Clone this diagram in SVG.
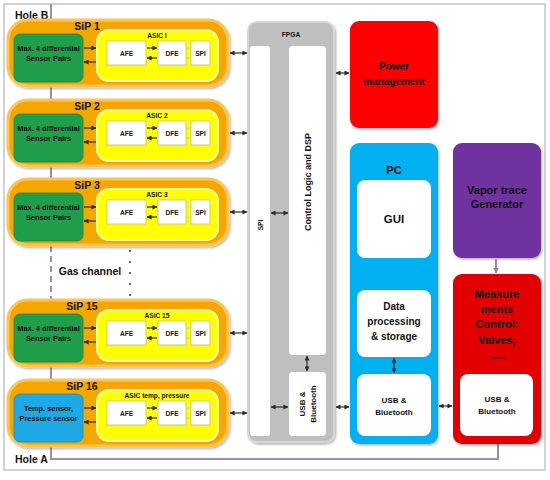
<svg xmlns="http://www.w3.org/2000/svg" width="550" height="480" viewBox="0 0 550 480">
<defs>
<style>
text{font-family:"Liberation Sans",Arial,sans-serif;font-weight:bold;fill:#111;text-anchor:middle}
.sip{fill:#f5a700;stroke:#fbc553;stroke-width:3}
.asic{fill:#ffff00;stroke:#ffffa8;stroke-width:2}
.grn{fill:#1f9e4c;stroke:#17853e;stroke-width:0.8}
.blu{fill:#1ea8e6;stroke:#1590c8;stroke-width:0.8}
.wb{fill:#fff;stroke:#bdbd90;stroke-width:0.8}
.wp{fill:#fff}
.ar{stroke:#2b2b2b;stroke-width:1.2;fill:none;marker-end:url(#ah)}
.dar{stroke:#2b2b2b;stroke-width:1.2;fill:none;marker-end:url(#ah);marker-start:url(#ah)}
.ds{stroke:#d2d2a8;stroke-width:1;fill:none}
.pl{stroke:#9d8bbf;stroke-width:2;fill:none}
.s14{font-size:10.5px}
.s7{font-size:7.4px}
.s6{font-size:6.6px}
.s10{font-size:10px}
.s11{font-size:11px}
.s8{font-size:8px}
</style>
<marker id="ah" viewBox="0 0 6 6" refX="5.5" refY="3" markerWidth="5" markerHeight="5" markerUnits="userSpaceOnUse" orient="auto-start-reverse"><path d="M0,0 L6,3 L0,6 z" fill="#2b2b2b"/></marker>
<marker id="ahp" viewBox="0 0 6 6" refX="5.5" refY="3" markerWidth="6" markerHeight="6" markerUnits="userSpaceOnUse" orient="auto"><path d="M0,0 L6,3 L0,6 z" fill="#8e7cb0"/></marker>
<filter id="sh" x="-10%" y="-10%" width="130%" height="130%"><feDropShadow dx="1.2" dy="1.5" stdDeviation="1.2" flood-color="#000" flood-opacity="0.3"/></filter>
</defs>
<rect x="4" y="4" width="541" height="466" fill="#fff" stroke="#c4c4c4" stroke-width="1.5"/>
<g id="gas-line">
<path class="pl" d="M51,4 V245"/>
<path class="pl" d="M51,246 V300" stroke-dasharray="6,4"/>
<path class="pl" d="M51,300 V459 H498 V437"/>
<text x="15" y="19" class="s14" style="text-anchor:start">Hole B</text>
<text x="15" y="463" class="s14" style="text-anchor:start">Hole A</text>
<text x="90" y="275" class="s14">Gas channel</text>
<g fill="#222"><circle cx="130" cy="251" r="0.9"/><circle cx="130" cy="262" r="0.9"/><circle cx="130" cy="273" r="0.9"/><circle cx="130" cy="284" r="0.9"/><circle cx="130" cy="295" r="0.9"/></g>
</g>
<g id="sip1" transform="translate(0,20)">
<rect class="sip" x="8" y="0" width="220" height="66" rx="20" filter="url(#sh)"/>
<text x="87" y="10" class="s14">SiP 1</text>
<rect class="grn" x="14" y="14" width="69" height="48" rx="6"/>
<text x="48.5" y="31" class="s7">Max. 4 differential</text><text x="48.5" y="41" class="s7">Sensor Pairs</text>
<rect class="asic" x="97" y="10" width="121" height="51" rx="12"/>
<text x="157" y="18" class="s6">ASIC I</text>
<rect class="wb" x="107" y="21" width="39" height="24"/><text x="126.5" y="35.5" class="s6">AFE</text>
<rect class="wb" x="158" y="21" width="28" height="24"/><text x="172" y="35.5" class="s6">DFE</text>
<rect class="wb" x="191" y="21" width="19" height="24"/><text x="200.5" y="35.5" class="s6">SPI</text>
</g>
<g id="sip2" transform="translate(0,100)">
<rect class="sip" x="8" y="0" width="220" height="66" rx="20" filter="url(#sh)"/>
<text x="87" y="10" class="s14">SiP 2</text>
<rect class="grn" x="14" y="14" width="69" height="48" rx="6"/>
<text x="48.5" y="31" class="s7">Max. 4 differential</text><text x="48.5" y="41" class="s7">Sensor Pairs</text>
<rect class="asic" x="97" y="10" width="121" height="51" rx="12"/>
<text x="157" y="18" class="s6">ASIC 2</text>
<rect class="wb" x="107" y="21" width="39" height="24"/><text x="126.5" y="35.5" class="s6">AFE</text>
<rect class="wb" x="158" y="21" width="28" height="24"/><text x="172" y="35.5" class="s6">DFE</text>
<rect class="wb" x="191" y="21" width="19" height="24"/><text x="200.5" y="35.5" class="s6">SPI</text>
</g>
<g id="sip3" transform="translate(0,179)">
<rect class="sip" x="8" y="0" width="220" height="66" rx="20" filter="url(#sh)"/>
<text x="87" y="10" class="s14">SiP 3</text>
<rect class="grn" x="14" y="14" width="69" height="48" rx="6"/>
<text x="48.5" y="31" class="s7">Max. 4 differential</text><text x="48.5" y="41" class="s7">Sensor Pairs</text>
<rect class="asic" x="97" y="10" width="121" height="51" rx="12"/>
<text x="157" y="18" class="s6">ASIC 3</text>
<rect class="wb" x="107" y="21" width="39" height="24"/><text x="126.5" y="35.5" class="s6">AFE</text>
<rect class="wb" x="158" y="21" width="28" height="24"/><text x="172" y="35.5" class="s6">DFE</text>
<rect class="wb" x="191" y="21" width="19" height="24"/><text x="200.5" y="35.5" class="s6">SPI</text>
</g>
<g id="sip15" transform="translate(0,300)">
<rect class="sip" x="8" y="0" width="220" height="66" rx="20" filter="url(#sh)"/>
<text x="82" y="10" class="s14">SiP 15</text>
<rect class="grn" x="14" y="14" width="69" height="48" rx="6"/>
<text x="48.5" y="31" class="s7">Max. 4 differential</text><text x="48.5" y="41" class="s7">Sensor Pairs</text>
<rect class="asic" x="97" y="10" width="121" height="51" rx="12"/>
<text x="157" y="18" class="s6">ASIC 15</text>
<rect class="wb" x="107" y="21" width="39" height="24"/><text x="126.5" y="35.5" class="s6">AFE</text>
<rect class="wb" x="158" y="21" width="28" height="24"/><text x="172" y="35.5" class="s6">DFE</text>
<rect class="wb" x="191" y="21" width="19" height="24"/><text x="200.5" y="35.5" class="s6">SPI</text>
</g>
<g id="sip16" transform="translate(0,380)">
<rect class="sip" x="8" y="0" width="220" height="66" rx="20" filter="url(#sh)"/>
<text x="82" y="10" class="s14">SiP 16</text>
<rect class="blu" x="14" y="14" width="69" height="48" rx="6"/>
<text x="48.5" y="31" class="s7">Temp. sensor,</text><text x="48.5" y="41" class="s7">Pressure sensor</text>
<rect class="asic" x="97" y="10" width="121" height="51" rx="12"/>
<text x="157" y="18" class="s6">ASIC temp, pressure</text>
<rect class="wb" x="107" y="21" width="39" height="24"/><text x="126.5" y="35.5" class="s6">AFE</text>
<rect class="wb" x="158" y="21" width="28" height="24"/><text x="172" y="35.5" class="s6">DFE</text>
<rect class="wb" x="191" y="21" width="19" height="24"/><text x="200.5" y="35.5" class="s6">SPI</text>
</g>
<g id="fpga">
<rect x="248" y="22" width="86" height="420" rx="9" fill="#bfbfbf" stroke="#d6d6d6" stroke-width="2" filter="url(#sh)"/>
<text x="291" y="37" class="s6">FPGA</text>
<rect class="wp" x="250" y="46" width="20" height="390" rx="3"/>
<text transform="translate(262.5,225) rotate(-90)" class="s6">SPI</text>
<rect class="wp" x="289" y="46" width="37" height="309" rx="4"/>
<text transform="translate(311,182) rotate(-90)" style="font-size:9px">Control Logic and DSP</text>
<rect class="wp" x="289" y="372" width="37" height="64" rx="4"/>
<text transform="translate(305,404) rotate(-90)" class="s8">USB &amp;</text>
<text transform="translate(316,404) rotate(-90)" class="s8">Bluetooth</text>
</g>
<g id="power">
<rect x="350" y="21" width="88" height="107" rx="9" fill="#ff0000" filter="url(#sh)"/>
<text x="394" y="70" class="s10">Power</text>
<text x="394" y="85" class="s10">management</text>
</g>
<g id="pc">
<rect x="350" y="143" width="88" height="301" rx="9" fill="#00b0f0" filter="url(#sh)"/>
<text x="394" y="174" class="s11">PC</text>
<rect class="wp" x="357" y="180" width="74" height="78" rx="8"/>
<text x="394" y="223" style="font-size:11.5px">GUI</text>
<rect class="wp" x="357" y="290" width="74" height="67" rx="8"/>
<text x="394" y="310" class="s10">Data</text>
<text x="394" y="325" class="s10">processing</text>
<text x="394" y="340" class="s10">&amp; storage</text>
<rect class="wp" x="357" y="374" width="74" height="62" rx="8"/>
<text x="394" y="403" class="s8">USB &amp;</text>
<text x="394" y="415" class="s8">Bluetooth</text>
</g>
<g id="vapor">
<rect x="453" y="143" width="88" height="115" rx="9" fill="#7030a0" filter="url(#sh)"/>
<text x="497" y="194" class="s11">Vapor trace</text>
<text x="497" y="208" class="s11">Generator</text>
</g>
<g id="measure">
<rect x="453" y="274" width="88" height="170" rx="9" fill="#e20000" filter="url(#sh)"/>
<text x="497" y="298" class="s11">Measure</text>
<text x="497" y="313" class="s11">ments</text>
<text x="497" y="328" class="s11">Control:</text>
<text x="497" y="344" class="s11">Valves,</text>
<text x="497" y="359" class="s11">.....</text>
<rect class="wp" x="460" y="374" width="73" height="62" rx="8"/>
<text x="497" y="402" class="s8">USB &amp;</text>
<text x="497" y="414" class="s8">Bluetooth</text>
</g>
<g id="connectors">
<line class="ar" x1="84" y1="48" x2="96" y2="48"/><line class="ar" x1="96" y1="62" x2="84" y2="62"/>
<line class="ar" x1="147" y1="48" x2="157" y2="48"/><line class="ar" x1="157" y1="58" x2="147" y2="58"/>
<line class="ds" x1="186" y1="48" x2="191" y2="48"/><line class="ds" x1="186" y1="58" x2="191" y2="58"/>
<line class="dar" x1="230" y1="53" x2="247" y2="53"/>
<line class="ar" x1="84" y1="128" x2="96" y2="128"/><line class="ar" x1="96" y1="142" x2="84" y2="142"/>
<line class="ar" x1="147" y1="128" x2="157" y2="128"/><line class="ar" x1="157" y1="138" x2="147" y2="138"/>
<line class="ds" x1="186" y1="128" x2="191" y2="128"/><line class="ds" x1="186" y1="138" x2="191" y2="138"/>
<line class="dar" x1="230" y1="133" x2="247" y2="133"/>
<line class="ar" x1="84" y1="207" x2="96" y2="207"/><line class="ar" x1="96" y1="221" x2="84" y2="221"/>
<line class="ar" x1="147" y1="207" x2="157" y2="207"/><line class="ar" x1="157" y1="217" x2="147" y2="217"/>
<line class="ds" x1="186" y1="207" x2="191" y2="207"/><line class="ds" x1="186" y1="217" x2="191" y2="217"/>
<line class="dar" x1="230" y1="212" x2="247" y2="212"/>
<line class="ar" x1="84" y1="328" x2="96" y2="328"/><line class="ar" x1="96" y1="342" x2="84" y2="342"/>
<line class="ar" x1="147" y1="328" x2="157" y2="328"/><line class="ar" x1="157" y1="338" x2="147" y2="338"/>
<line class="ds" x1="186" y1="328" x2="191" y2="328"/><line class="ds" x1="186" y1="338" x2="191" y2="338"/>
<line class="dar" x1="230" y1="333" x2="247" y2="333"/>
<line class="ar" x1="84" y1="408" x2="96" y2="408"/><line class="ar" x1="96" y1="422" x2="84" y2="422"/>
<line class="ar" x1="147" y1="408" x2="157" y2="408"/><line class="ar" x1="157" y1="418" x2="147" y2="418"/>
<line class="ds" x1="186" y1="408" x2="191" y2="408"/><line class="ds" x1="186" y1="418" x2="191" y2="418"/>
<line class="dar" x1="230" y1="413" x2="247" y2="413"/>
<line class="dar" x1="271" y1="213" x2="288" y2="213"/>
<line class="dar" x1="271" y1="407" x2="288" y2="407"/>
<line class="dar" x1="307" y1="356" x2="307" y2="371"/>
<line class="dar" x1="336" y1="73" x2="349" y2="73"/>
<line class="dar" x1="336" y1="407" x2="349" y2="407"/>
<line class="dar" x1="394" y1="358" x2="394" y2="373"/>
<line class="dar" x1="439" y1="406" x2="452" y2="406"/>
<line x1="496" y1="259" x2="496" y2="273" stroke="#9d8bbf" stroke-width="2" marker-end="url(#ahp)"/>
</g>
</svg>
